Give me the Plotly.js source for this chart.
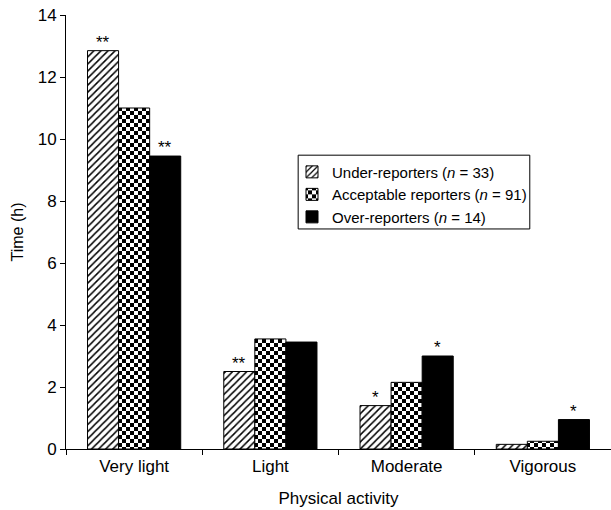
<!DOCTYPE html>
<html>
<head>
<meta charset="utf-8">
<script src="https://cdn.plot.ly/plotly-3.0.1.min.js"></script>
<style>html,body{margin:0;padding:0;background:#fff}#chart{width:611px;height:510px}</style>
</head>
<body>
<div id="chart"></div>
<script>
const categories = ["Very light", "Light", "Moderate", "Vigorous"];
const seriesNames = ["Under-reporters (<i>n</i> = 33)", "Acceptable reporters (<i>n</i> = 91)", "Over-reporters (<i>n</i> = 14)"];
const underValues = [12.85, 2.5, 1.4, 0.15];
const acceptableValues = [11.0, 3.55, 2.15, 0.25];
const overValues = [9.45, 3.45, 3.0, 0.95];
const underMarks = ["**", "**", "*", ""];
const acceptableMarks = ["", "", "", ""];
const overMarks = ["**", "", "*", "*"];
const yTicks = [0, 2, 4, 6, 8, 10, 12, 14];

const font = {family: "Liberation Sans, Arial, sans-serif", color: "#000"};
const line = {color: "#000", width: 1};

const traces = [
  {name: seriesNames[0], y: underValues, marker: {color: "#fff", line: line, pattern: {shape: "/", fgcolor: "#000", bgcolor: "#fff", size: 5, solidity: 0.3}}},
  {name: seriesNames[1], y: acceptableValues, marker: {color: "#fff", line: line, pattern: {shape: ".", fgcolor: "#000", bgcolor: "#fff", size: 8, solidity: 0.55}}},
  {name: seriesNames[2], y: overValues, marker: {color: "#000", line: line}}
].map(t => Object.assign({type: "bar", x: categories, hoverinfo: "none"}, t));

const marks = [underMarks, acceptableMarks, overMarks];
const values = [underValues, acceptableValues, overValues];
const shifts = [-31, 0, 31];
const annotations = [];
marks.forEach((m, s) => m.forEach((txt, i) => {
  if (txt) annotations.push({x: categories[i], y: values[s][i], xref: "x", yref: "y", text: txt, showarrow: false, xshift: shifts[s], yanchor: "bottom", yshift: -3, font: Object.assign({size: 17}, font)});
}));

const layout = {
  width: 611, height: 510,
  margin: {l: 66, r: 0, t: 15, b: 61},
  paper_bgcolor: "#fff", plot_bgcolor: "#fff",
  font: Object.assign({size: 16}, font),
  barmode: "group", bargap: 0.316, bargroupgap: 0,
  showlegend: true,
  legend: {x: 0.4147, y: 0.676, xanchor: "left", yanchor: "top", borderwidth: 0, bgcolor: "rgba(0,0,0,0)", font: Object.assign({size: 15}, font), tracegroupgap: 0, itemwidth: 30},
  shapes: [{type: "rect", xref: "paper", yref: "paper", x0: 0.426, x1: 0.851, y0: 0.507, y1: 0.677, line: {color: "#000", width: 1}, fillcolor: "rgba(0,0,0,0)", layer: "above"}],
  xaxis: {type: "category", showline: true, linecolor: "#000", linewidth: 1, ticks: "outside", tickson: "boundaries", ticklen: 5, tickcolor: "#000", showgrid: false, zeroline: false, ticklabelstandoff: 2,
          title: {text: "Physical activity", font: Object.assign({size: 17}, font), standoff: 16}, tickfont: Object.assign({size: 17}, font)},
  yaxis: {range: [0, 14], tickvals: yTicks, ticktext: yTicks.map(String), showline: true, linecolor: "#000", linewidth: 1, ticks: "outside", ticklen: 5, tickcolor: "#000", showgrid: false, zeroline: false,
          title: {text: "Time (h)", font: Object.assign({size: 16}, font), standoff: 10}, tickfont: Object.assign({size: 17}, font)},
  annotations: annotations
};

// turn the library's dot pattern into a checkerboard (style only)
function checkerize() {
  const ns = "http://www.w3.org/2000/svg";
  document.querySelectorAll("pattern").forEach(p => {
    if (!p.querySelector("circle")) return;
    const s = 8, h = s / 2;
    while (p.firstChild) p.removeChild(p.firstChild);
    p.setAttribute("width", s); p.setAttribute("height", s);
    p.setAttribute("patternUnits", "userSpaceOnUse");
    p.removeAttribute("patternTransform");
    const add = (x, y, w, c) => { const r = document.createElementNS(ns, "rect"); r.setAttribute("x", x); r.setAttribute("y", y); r.setAttribute("width", w); r.setAttribute("height", w); r.setAttribute("fill", c); p.appendChild(r); };
    add(0, 0, s, "#fff"); add(0, 0, h, "#000"); add(h, h, h, "#000");
  });
}

Plotly.newPlot("chart", traces, layout, {displayModeBar: false, staticPlot: true}).then(checkerize);
</script>
</body>
</html>
